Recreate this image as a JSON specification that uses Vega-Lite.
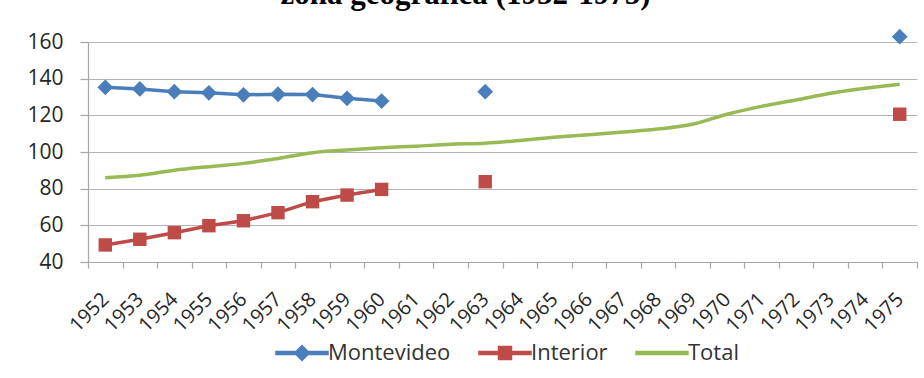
{
  "$schema": "https://vega.github.io/schema/vega-lite/v6.json",
  "autosize": {"type": "none"},
  "width": 829,
  "height": 220,
  "padding": {"left": 88, "top": 42, "right": 7, "bottom": 116},
  "background": "white",
  "title": {"text": "zona geográfica (1952-1975)", "frame": "group", "anchor": "middle", "dx": -37, "dy": 32, "offset": 26, "baseline": "alphabetic", "font": "Liberation Serif", "fontSize": 31, "fontWeight": "bold", "color": "black"},
  "config": {
    "view": {"stroke": null},
    "axis": {"domainColor": "#a6a6a6", "tickColor": "#a6a6a6", "gridColor": "#b4b4b4", "labelFont": "Open Sans", "labelFontSize": 20, "labelColor": "#262626", "domainWidth": 1.2, "tickWidth": 1.2}
  },
  "data": {"values": [
    {"year": "1952", "series": "Montevideo", "value": 135.3, "seg": "a"},
    {"year": "1953", "series": "Montevideo", "value": 134.4, "seg": "a"},
    {"year": "1954", "series": "Montevideo", "value": 132.9, "seg": "a"},
    {"year": "1955", "series": "Montevideo", "value": 132.3, "seg": "a"},
    {"year": "1956", "series": "Montevideo", "value": 131.2, "seg": "a"},
    {"year": "1957", "series": "Montevideo", "value": 131.5, "seg": "a"},
    {"year": "1958", "series": "Montevideo", "value": 131.3, "seg": "a"},
    {"year": "1959", "series": "Montevideo", "value": 129.3, "seg": "a"},
    {"year": "1960", "series": "Montevideo", "value": 127.8, "seg": "a"},
    {"year": "1963", "series": "Montevideo", "value": 132.9, "seg": "b"},
    {"year": "1975", "series": "Montevideo", "value": 162.9, "seg": "c"},
    {"year": "1952", "series": "Interior", "value": 49.3, "seg": "a"},
    {"year": "1953", "series": "Interior", "value": 52.4, "seg": "a"},
    {"year": "1954", "series": "Interior", "value": 56.0, "seg": "a"},
    {"year": "1955", "series": "Interior", "value": 59.8, "seg": "a"},
    {"year": "1956", "series": "Interior", "value": 62.5, "seg": "a"},
    {"year": "1957", "series": "Interior", "value": 66.9, "seg": "a"},
    {"year": "1958", "series": "Interior", "value": 72.9, "seg": "a"},
    {"year": "1959", "series": "Interior", "value": 76.5, "seg": "a"},
    {"year": "1960", "series": "Interior", "value": 79.6, "seg": "a"},
    {"year": "1963", "series": "Interior", "value": 83.8, "seg": "b"},
    {"year": "1975", "series": "Interior", "value": 120.6, "seg": "c"},
    {"year": "1952", "series": "Total", "value": 86.0, "seg": "a"},
    {"year": "1953", "series": "Total", "value": 87.3, "seg": "a"},
    {"year": "1954", "series": "Total", "value": 90.0, "seg": "a"},
    {"year": "1955", "series": "Total", "value": 92.0, "seg": "a"},
    {"year": "1956", "series": "Total", "value": 93.8, "seg": "a"},
    {"year": "1957", "series": "Total", "value": 96.5, "seg": "a"},
    {"year": "1958", "series": "Total", "value": 99.6, "seg": "a"},
    {"year": "1959", "series": "Total", "value": 101.1, "seg": "a"},
    {"year": "1960", "series": "Total", "value": 102.3, "seg": "a"},
    {"year": "1961", "series": "Total", "value": 103.2, "seg": "a"},
    {"year": "1962", "series": "Total", "value": 104.2, "seg": "a"},
    {"year": "1963", "series": "Total", "value": 104.8, "seg": "a"},
    {"year": "1964", "series": "Total", "value": 106.3, "seg": "a"},
    {"year": "1965", "series": "Total", "value": 108.0, "seg": "a"},
    {"year": "1966", "series": "Total", "value": 109.4, "seg": "a"},
    {"year": "1967", "series": "Total", "value": 110.9, "seg": "a"},
    {"year": "1968", "series": "Total", "value": 112.5, "seg": "a"},
    {"year": "1969", "series": "Total", "value": 115.1, "seg": "a"},
    {"year": "1970", "series": "Total", "value": 120.6, "seg": "a"},
    {"year": "1971", "series": "Total", "value": 124.9, "seg": "a"},
    {"year": "1972", "series": "Total", "value": 128.4, "seg": "a"},
    {"year": "1973", "series": "Total", "value": 132.0, "seg": "a"},
    {"year": "1974", "series": "Total", "value": 134.8, "seg": "a"},
    {"year": "1975", "series": "Total", "value": 137.0, "seg": "a"}
  ]},
  "encoding": {
    "x": {"field": "year", "type": "ordinal", "scale": {"type": "band", "paddingInner": 0, "paddingOuter": 0},
      "axis": {"title": null, "tickBand": "extent", "grid": false, "labelAngle": -45, "labelAlign": "right", "labelBaseline": "middle", "tickSize": 6, "labelPadding": 28}},
    "y": {"field": "value", "type": "quantitative", "scale": {"domain": [40, 160], "nice": false, "zero": false},
      "axis": {"title": null, "values": [40, 60, 80, 100, 120, 140, 160], "grid": true, "tickSize": 8, "labelPadding": 17, "labelFontSize": 21}}
  },
  "layer": [
    {
      "transform": [{"filter": "datum.series !== 'Total'"}],
      "mark": {"type": "line", "strokeWidth": 3.5},
      "encoding": {
        "color": {"field": "series", "type": "nominal",
          "scale": {"domain": ["Montevideo", "Interior", "Total"], "range": ["#4a7ebb", "#be4b48", "#98b954"]},
          "legend": {"title": null, "orient": "none", "legendX": 203, "legendY": 300, "direction": "horizontal", "padding": 0,
            "symbolSize": 100, "labelOffset": 15, "columnPadding": 25, "labelFont": "Open Sans", "labelFontSize": 22, "labelColor": "#333333",
            "encode": {"symbols": {"update": {
              "shape": {"signal": "datum.value === 'Montevideo' ? 'M-5.2,-0.3L-1.2,-0.3L0,-1.5L1.2,-0.3L5.2,-0.3L5.2,0.3L1.2,0.3L0,1.5L-1.2,0.3L-5.2,0.3Z' : datum.value === 'Interior' ? 'M-5.2,-0.3L-1.3,-0.3L-1.3,-1.3L1.3,-1.3L1.3,-0.3L5.2,-0.3L5.2,0.3L1.3,0.3L1.3,1.3L-1.3,1.3L-1.3,0.3L-5.2,0.3Z' : 'M-5.2,-0.3L5.2,-0.3L5.2,0.3L-5.2,0.3Z'"},
              "fill": {"scale": "color", "field": "value"},
              "stroke": {"value": "transparent"},
              "opacity": {"value": 1},
              "fillOpacity": {"value": 1}
            }}}}},
        "detail": {"field": "seg"}
      }
    },
    {
      "transform": [{"filter": "datum.series === 'Total'"}],
      "mark": {"type": "line", "strokeWidth": 3.5, "interpolate": "monotone"},
      "encoding": {"color": {"field": "series", "type": "nominal"}}
    },
    {
      "transform": [{"filter": "datum.series !== 'Total'"}],
      "mark": {"type": "point", "filled": true, "opacity": 1},
      "encoding": {
        "color": {"field": "series", "type": "nominal"},
        "shape": {"field": "series", "type": "nominal", "scale": {"domain": ["Montevideo", "Interior"], "range": ["diamond", "square"]}, "legend": null},
        "size": {"field": "series", "type": "nominal", "scale": {"domain": ["Montevideo", "Interior"], "range": [250, 180]}, "legend": null}
      }
    }
  ]
}
